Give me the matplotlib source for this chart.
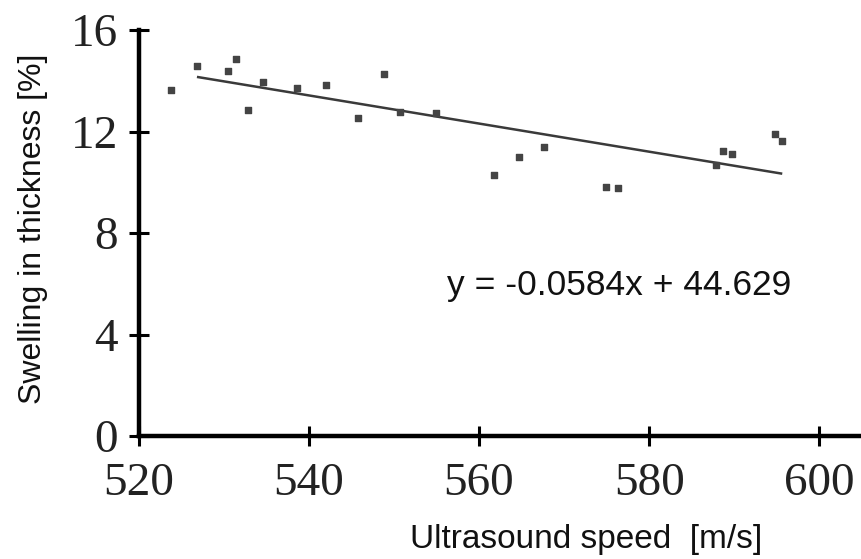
import matplotlib
matplotlib.use("Agg")
import matplotlib.pyplot as plt
import numpy as np

# data
speed = [523.8, 526.9, 530.5, 531.4, 532.9, 534.6, 538.6, 542.0, 545.8, 548.8,
         550.7, 555.0, 561.8, 564.7, 567.6, 574.9, 576.3, 587.8, 588.7, 589.7,
         594.8, 595.6]
swelling = [13.66, 14.58, 14.4, 14.87, 12.86, 13.95, 13.74, 13.85, 12.52, 14.28,
            12.77, 12.73, 10.30, 11.0, 11.39, 9.81, 9.78, 10.67, 11.22, 11.13,
            11.92, 11.65]
trend_x = [527.0, 595.5]
trend_y = [14.15, 10.35]
x_ticks = [520, 540, 560, 580, 600]
y_ticks = [0, 4, 8, 12, 16]
equation = "y = -0.0584x + 44.629"

fig = plt.figure(figsize=(8.61, 5.59), dpi=100)
ax = fig.add_axes([0.161, 0.22, 0.839, 0.726])

ax.plot(trend_x, trend_y, color="#3a3a3a", lw=1.8, zorder=2)
ax.scatter(speed, swelling, marker="s", s=13, color="#444444", zorder=3)

ax.text(576.5, 5.95, equation, fontsize=25.5, family="Liberation Sans",
        ha="center", va="center", color="#111111")

ax.set_xlim(520, 604.9)
ax.set_ylim(0, 16)
ax.set_xticks(x_ticks)
ax.set_yticks(y_ticks)

for side in ["top", "right"]:
    ax.spines[side].set_visible(False)
for side in ["left", "bottom"]:
    ax.spines[side].set_linewidth(3.2)
    ax.spines[side].set_color("black")

ax.tick_params(direction="inout", length=14, width=2.2, color="black",
               labelsize=34, labelcolor="#222222")
ax.tick_params(axis="x", pad=12)
ax.tick_params(axis="y", pad=8)
for lab in ax.get_xticklabels() + ax.get_yticklabels():
    lab.set_family("Liberation Serif")

ax.set_xlabel("Ultrasound speed  [m/s]", fontsize=24, family="Liberation Sans",
              color="#111111")
ax.xaxis.set_label_coords(0.62, -0.218)
ax.set_ylabel("Swelling in thickness [%]", fontsize=23, family="Liberation Sans",
              color="#111111")
ax.yaxis.set_label_coords(-0.126, 0.51)

fig.savefig("out.png", dpi=100)
